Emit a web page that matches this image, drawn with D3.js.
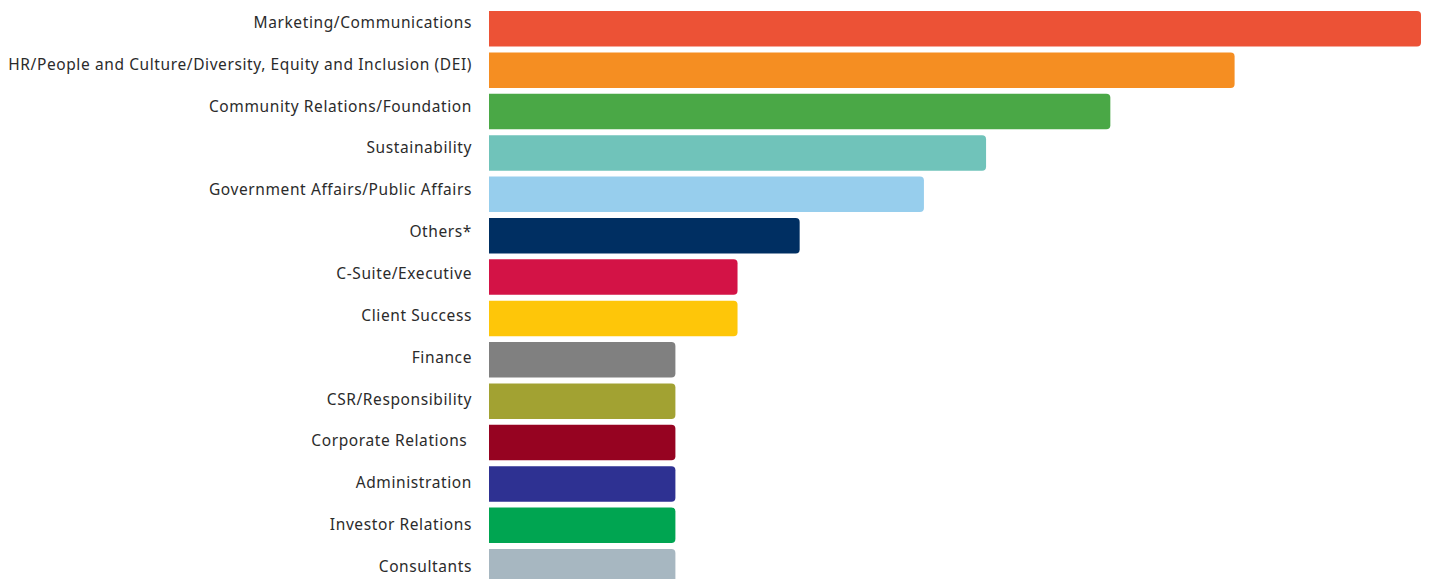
<!DOCTYPE html>
<html>
<head>
<meta charset="utf-8">
<script src="https://cdn.jsdelivr.net/npm/d3@7"></script>
<style>
  html, body { margin: 0; padding: 0; background: #fff; }
  svg { display: block; }
</style>
</head>
<body>
<svg id="chart" width="1430" height="579"></svg>
<script>
// Departments, in display order
const categories = [
  "Marketing/Communications",
  "HR/People and Culture/Diversity, Equity and Inclusion (DEI)",
  "Community Relations/Foundation",
  "Sustainability",
  "Government Affairs/Public Affairs",
  "Others*",
  "C-Suite/Executive",
  "Client Success",
  "Finance",
  "CSR/Responsibility",
  "Corporate Relations ",
  "Administration",
  "Investor Relations",
  "Consultants"
];

// Responses per department
const values = [15, 12, 10, 8, 7, 5, 4, 4, 3, 3, 3, 3, 3, 3];

const colors = [
  "#EC5236", "#F58E22", "#4AA846", "#70C3BA", "#97CEED", "#002F62", "#D31346",
  "#FEC609", "#808080", "#A2A232", "#960321", "#2E3192", "#00A551", "#A7B7C1"
];

const svg = d3.select("#chart");

const x = d3.scaleLinear().domain([0, 15]).range([489, 1421]);

const y = d3.scaleBand()
  .domain(categories)
  .range([8.1, 587.4])
  .paddingInner(0.14)
  .paddingOuter(0.07);

// label positions run on a slightly wider pitch than the bars
const yLabel = d3.scalePoint().domain(categories).range([22.5, 566.5]);

// bar with square left end and rounded right end
function barPath(x0, x1, y0, h, r) {
  r = Math.min(r, (x1 - x0) / 2, h / 2);
  return `M${x0},${y0}H${x1 - r}Q${x1},${y0} ${x1},${y0 + r}` +
         `V${y0 + h - r}Q${x1},${y0 + h} ${x1 - r},${y0 + h}H${x0}Z`;
}

svg.append("g")
  .selectAll("path")
  .data(categories)
  .join("path")
  .attr("d", (c, i) => barPath(x(0), x(values[i]), y(c), y.bandwidth(), 4))
  .attr("fill", (c, i) => colors[i]);

svg.append("g")
  .selectAll("text")
  .data(categories)
  .join("text")
  .attr("x", 472)
  .attr("y", c => yLabel(c))
  .attr("dy", "0.35em")
  .attr("text-anchor", "end")
  .attr("font-family", "'Noto Sans', sans-serif")
  .attr("font-size", 15.5)
  .attr("letter-spacing", "0.6px")
  .attr("fill", "#2b2b2b")
  .style("white-space", "pre")
  .text(c => c);
</script>
</body>
</html>
